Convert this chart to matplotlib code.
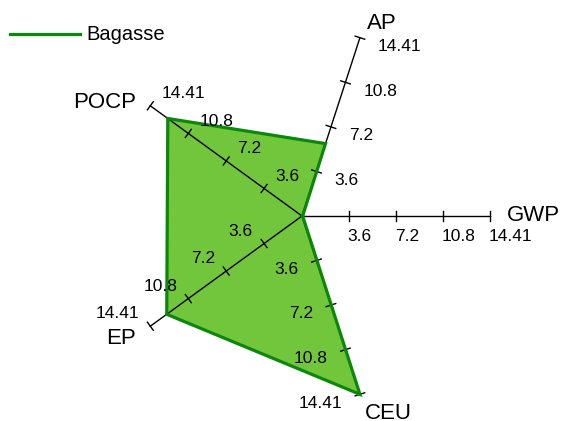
import numpy as np
import matplotlib.pyplot as plt
from matplotlib.lines import Line2D

plt.rcParams['font.family'] = ['Liberation Sans', 'DejaVu Sans']

axes_names = ['GWP', 'AP', 'POCP', 'EP', 'CEU']
bagasse = [0.05, 5.85, 12.75, 12.85, 14.41]
tick_vals = [3.6, 7.2, 10.8, 14.41]
tick_labels = ['3.6', '7.2', '10.8', '14.41']
vmax = 14.41

W, H = 563, 421
cx, cy = 302, 216      # centre in pixels
R = 187.5              # pixels for vmax

fig = plt.figure(figsize=(W / 100, H / 100), dpi=100)
ax = fig.add_axes([0, 0, 1, 1])
ax.set_xlim(-cx / R, (W - cx) / R)
ax.set_ylim(-(H - cy) / R, cy / R)
ax.axis('off')

px = 1.0 / R
angles = np.deg2rad(np.arange(len(axes_names)) * 360.0 / len(axes_names))

# filled shape
r = np.array(bagasse) / vmax
xs = r * np.cos(angles)
ys = r * np.sin(angles)
ax.fill(xs, ys, color='#72c63c', zorder=1)
ax.fill(xs, ys, facecolor='none', edgecolor='#d6f0c4', lw=0.7, zorder=1.5)

# axis name placement (pixel offsets from axis end, alignment)
name_pos = [((17, 0), 'left', 'center'),
            ((7, 4), 'left', 'bottom'),
            ((-14, 3), 'right', 'center'),
            ((-14, -12), 'right', 'center'),
            ((5, -9), 'left', 'top')]

for i, name in enumerate(axes_names):
    a = angles[i]
    u = np.array([np.cos(a), np.sin(a)])
    p = np.array([-np.sin(a), np.cos(a)])    # perpendicular (ccw)
    ax.plot([0, u[0]], [0, u[1]], color='black', lw=1.0, zorder=2)
    for v, lab in zip(tick_vals, tick_labels):
        c = u * v / vmax
        t0 = c - p * 5 * px
        t1 = c + p * 5 * px
        ax.plot([t0[0], t1[0]], [t0[1], t1[1]], color='black', lw=1.0, zorder=2)
        if i == 0:
            ax.text(c[0] - 1 * px, c[1] - 21 * px, lab, ha='left', va='center',
                    fontsize=12.5, zorder=3)
        else:
            off = -p * 19 * px
            ha = 'left' if -p[0] > 0 else 'right'
            ax.text(c[0] + off[0], c[1] + off[1] - 3 * px, lab, ha=ha, va='center',
                    fontsize=12.5, zorder=3)
    (dx, dy), ha, va = name_pos[i]
    ax.text(u[0] + dx * px, u[1] + dy * px, name, ha=ha, va=va, fontsize=16, zorder=3)

ax.plot(np.append(xs, xs[0]), np.append(ys, ys[0]), color='#0b880b', lw=2.3,
        solid_joinstyle='miter', zorder=2.5)

# legend
fig.add_artist(Line2D([10 / W, 80 / W], [1 - 34 / H, 1 - 34 / H], color='#0b880b', lw=2.3))
fig.text(86 / W, 1 - 34 / H, 'Bagasse', ha='left', va='center', fontsize=14.5)

fig.savefig('out.png', dpi=100)
